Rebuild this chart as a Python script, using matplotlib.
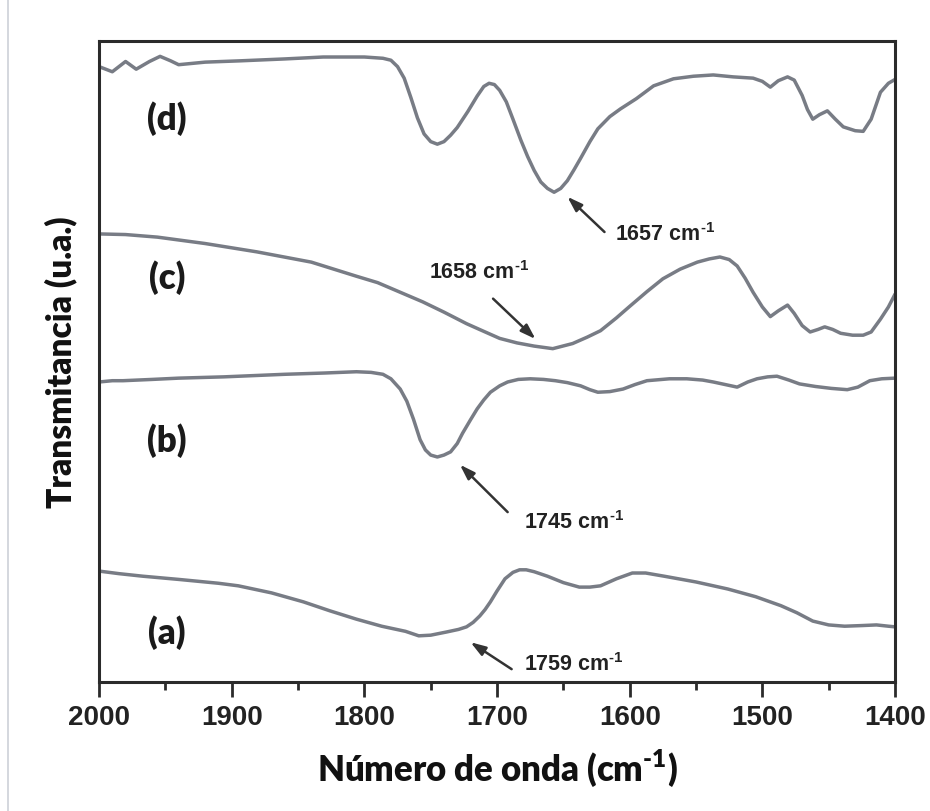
import matplotlib
matplotlib.use("Agg")
import matplotlib.pyplot as plt
from matplotlib.lines import Line2D
from matplotlib.ticker import MultipleLocator

# FTIR spectra, transmittance in arbitrary units (stacked traces)
wn_a = [2000, 1985, 1967, 1940, 1910, 1895, 1870, 1846, 1826, 1806, 1787, 1769, 1759, 1750,
        1738, 1729, 1723, 1718, 1713, 1709, 1705, 1700, 1694, 1688, 1683, 1678, 1672, 1662,
        1650, 1638, 1630, 1622, 1610, 1598, 1588, 1574, 1550, 1526, 1505, 1486, 1474, 1462,
        1450, 1438, 1425, 1414, 1405, 1400]
t_a = [17.3, 16.9, 16.5, 16.0, 15.4, 15.0, 13.9, 12.5, 11.1, 9.8, 8.7, 7.9, 7.2, 7.3,
       7.8, 8.2, 8.6, 9.3, 10.3, 11.3, 12.5, 14.2, 16.1, 17.1, 17.5, 17.5, 17.2, 16.5,
       15.5, 14.8, 14.8, 15.0, 16.1, 17.0, 17.0, 16.5, 15.6, 14.5, 13.3, 11.9, 10.8, 9.5,
       8.9, 8.7, 8.8, 8.9, 8.7, 8.6]

wn_b = [2000, 1990, 1982, 1960, 1940, 1906, 1860, 1830, 1806, 1795, 1786, 1780, 1773, 1768,
        1763, 1758, 1754, 1750, 1745, 1740, 1735, 1730, 1726, 1720, 1715, 1710, 1705, 1698,
        1692, 1684, 1675, 1665, 1656, 1647, 1637, 1630, 1624, 1615, 1605, 1596, 1587, 1570,
        1557, 1545, 1537, 1528, 1519, 1511, 1504, 1496, 1489, 1480, 1472, 1460, 1448, 1436,
        1428, 1419, 1410, 1400]
t_b = [46.8, 47.0, 47.0, 47.2, 47.4, 47.6, 48.0, 48.2, 48.4, 48.3, 48.0, 47.3, 45.7, 43.8,
       41.0, 37.8, 36.2, 35.4, 35.1, 35.4, 35.9, 37.2, 38.8, 40.9, 42.6, 44.0, 45.2, 46.2,
       46.8, 47.2, 47.3, 47.2, 47.0, 46.7, 46.2, 45.6, 45.2, 45.3, 45.7, 46.4, 47.0, 47.3,
       47.3, 47.1, 46.8, 46.4, 46.0, 46.8, 47.3, 47.6, 47.7, 47.1, 46.5, 46.1, 45.8, 45.6,
       46.0, 47.0, 47.3, 47.4]

wn_c = [2000, 1980, 1956, 1920, 1881, 1840, 1806, 1790, 1773, 1756, 1740, 1723, 1710, 1698,
        1685, 1672, 1658, 1643, 1632, 1622, 1610, 1600, 1587, 1575, 1562, 1549, 1540, 1532,
        1525, 1519, 1513, 1507, 1500, 1494, 1488, 1481, 1476, 1470, 1464, 1458, 1453, 1447,
        1441, 1432, 1424, 1418, 1411, 1405, 1400]
t_c = [69.9, 69.8, 69.4, 68.4, 67.1, 65.5, 63.3, 62.3, 60.8, 59.3, 57.7, 55.9, 54.7, 53.6,
       52.9, 52.4, 52.0, 52.8, 53.8, 54.8, 56.8, 58.6, 60.9, 62.9, 64.4, 65.5, 66.0, 66.3,
       65.9, 64.9, 63.0, 60.8, 58.5, 57.0, 57.9, 58.8, 57.5, 55.6, 54.6, 55.0, 55.4, 55.0,
       54.4, 54.1, 54.1, 54.6, 56.6, 58.5, 60.5]

wn_d = [2000, 1990, 1980, 1972, 1962, 1954, 1946, 1940, 1920, 1894, 1860, 1831, 1800, 1786,
        1780, 1775, 1770, 1765, 1760, 1755, 1750, 1745, 1740, 1735, 1730, 1722, 1715, 1710,
        1706, 1702, 1698, 1693, 1688, 1682, 1677, 1672, 1667, 1662, 1657, 1652, 1647, 1642,
        1637, 1630, 1624, 1615, 1607, 1595, 1582, 1567, 1552, 1537, 1522, 1507, 1500, 1494,
        1488, 1481, 1476, 1470, 1466, 1462, 1457, 1451, 1445, 1439, 1430, 1424, 1418, 1411,
        1405, 1400]
t_d = [96.0, 95.2, 96.8, 95.6, 96.8, 97.6, 96.9, 96.3, 96.7, 96.9, 97.2, 97.5, 97.5, 97.3,
       97.0, 96.0, 94.2, 91.2, 88.0, 85.5, 84.3, 83.9, 84.3, 85.3, 86.5, 89.0, 91.4, 92.9,
       93.4, 93.2, 92.3, 90.5, 87.8, 84.5, 82.0, 79.8, 78.0, 77.0, 76.4, 77.0, 78.2, 79.9,
       81.7, 84.3, 86.3, 88.2, 89.4, 91.0, 93.0, 94.1, 94.5, 94.7, 94.4, 94.2, 93.7, 92.8,
       93.8, 94.4, 93.9, 91.5, 89.3, 87.8, 88.5, 89.1, 87.8, 86.6, 86.0, 85.9, 87.8, 92.0,
       93.4, 94.0]

series = [(wn_a, t_a), (wn_b, t_b), (wn_c, t_c), (wn_d, t_d)]
curve_labels = ["(a)", "(b)", "(c)", "(d)"]
label_y = [7.8, 37.8, 63.2, 88.0]

# band positions marked with arrows, with text and arrow placement
bands = [1759, 1745, 1658, 1657]
band_text_xy = [(1680, 2.8), (1680, 25.1), (1751, 64.0), (1611, 69.9)]
band_tail = [(1689, 2.0), (1692, 26.5), (1703, 59.8), (1619, 70.2)]
band_tip = [(1720, 6.2), (1728, 33.9), (1671, 53.5), (1647, 75.7)]

line_col = "#787c85"
dark = "#2b2b2b"
sup = r"$^{\mathregular{‐1}}$"  # short hyphen in the superscript

fig = plt.figure(figsize=(9.3, 8.12), dpi=100)
ax = fig.add_axes([0.1065, 0.1589, 0.8559, 0.7894])

for wn, t in series:
    ax.plot(wn, t, color=line_col, lw=2.5, solid_joinstyle="round", solid_capstyle="round")

for lab, y in zip(curve_labels, label_y):
    ax.text(1949, y, lab, fontsize=25, fontweight="heavy", family="Lato",
            color="#1a1a1a", ha="center", va="center")

for b, txy, tail, tip in zip(bands, band_text_xy, band_tail, band_tip):
    ax.annotate("", xy=tip, xytext=tail,
                arrowprops=dict(arrowstyle="-|>,head_length=0.9,head_width=0.3",
                                color="#333333", lw=1.8, shrinkA=0, shrinkB=0))
    ax.text(txy[0], txy[1], f"{b} cm" + sup, fontsize=15.5,
            fontweight="bold", family="Liberation Sans", color="#222222",
            ha="left", va="center")

ax.set_xlim(2000, 1400)
ax.set_ylim(0, 100)
ax.xaxis.set_major_locator(MultipleLocator(100))
ax.xaxis.set_minor_locator(MultipleLocator(50))
ax.set_yticks([])
ax.tick_params(axis="x", which="major", direction="out", length=11, width=2,
               color=dark, pad=5, labelsize=20)
ax.tick_params(axis="x", which="minor", direction="out", length=6, width=2, color=dark)
for lbl in ax.get_xticklabels():
    lbl.set_fontfamily("Liberation Sans")
    lbl.set_fontweight("bold")
    lbl.set_color("#222222")

for sp in ax.spines.values():
    sp.set_linewidth(2.2)
    sp.set_color(dark)

ax.set_xlabel("Número de onda (cm" + sup + ")", fontsize=25, fontweight="heavy",
              family="Lato", color="#111111", labelpad=12)
ax.set_ylabel("Transmitancia (u.a.)", fontsize=24, fontweight="heavy",
              family="Lato", color="#111111", labelpad=16)

# thin frame line on the left edge of the page
fig.add_artist(Line2D([0.0086, 0.0086], [0, 1], transform=fig.transFigure,
                      color="#cdd1d8", lw=1.2))

fig.savefig("out.png", dpi=100)
